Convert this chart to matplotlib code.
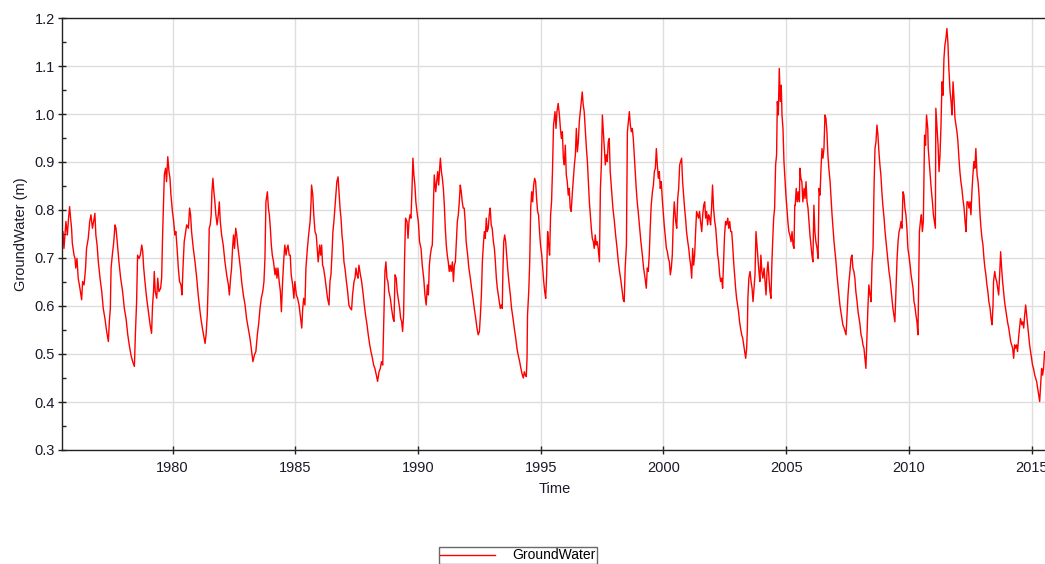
import numpy as np
import matplotlib
matplotlib.use("Agg")
from matplotlib import pyplot as plt
from matplotlib.ticker import MultipleLocator

plt.rcParams['font.family'] = ['Liberation Sans', 'DejaVu Sans']

# groundwater level in pieces of about five years
t_a = [1975.48, 1975.53, 1975.57, 1975.61, 1975.65, 1975.71, 1975.75, 1975.80, 1975.84, 1975.88,
       1975.91, 1975.98, 1976.02, 1976.05, 1976.10, 1976.15, 1976.22, 1976.29, 1976.33, 1976.39,
       1976.45, 1976.49, 1976.56, 1976.62, 1976.67, 1976.73, 1976.78, 1976.83, 1976.87, 1976.92,
       1976.97, 1977.04, 1977.11, 1977.17, 1977.24, 1977.31, 1977.38, 1977.42, 1977.46, 1977.49,
       1977.54, 1977.60, 1977.65, 1977.69, 1977.74, 1977.81, 1977.88, 1977.96, 1978.03, 1978.10,
       1978.17, 1978.23, 1978.30, 1978.37, 1978.44, 1978.48, 1978.53, 1978.57, 1978.63, 1978.68,
       1978.74, 1978.78, 1978.82, 1978.87, 1978.94, 1979.01, 1979.08, 1979.14, 1979.18, 1979.22,
       1979.25, 1979.29, 1979.35, 1979.39, 1979.44, 1979.51, 1979.55, 1979.59, 1979.63, 1979.66,
       1979.71, 1979.75, 1979.80, 1979.85, 1979.89, 1979.93, 1979.99, 1980.04, 1980.09, 1980.13,
       1980.18, 1980.23, 1980.28, 1980.34, 1980.38, 1980.42, 1980.47, 1980.51, 1980.57, 1980.64,
       1980.69]
gw_a = [0.727, 0.755, 0.720, 0.748, 0.776, 0.748, 0.779, 0.807, 0.783, 0.762,
        0.731, 0.706, 0.699, 0.679, 0.699, 0.658, 0.637, 0.613, 0.651, 0.644,
        0.679, 0.720, 0.741, 0.776, 0.790, 0.762, 0.776, 0.793, 0.748, 0.727,
        0.692, 0.658, 0.630, 0.595, 0.574, 0.547, 0.526, 0.568, 0.595, 0.679,
        0.706, 0.734, 0.769, 0.762, 0.734, 0.692, 0.658, 0.630, 0.595, 0.574,
        0.540, 0.519, 0.498, 0.484, 0.474, 0.540, 0.609, 0.706, 0.699, 0.706,
        0.727, 0.713, 0.679, 0.651, 0.616, 0.588, 0.561, 0.543, 0.602, 0.630,
        0.672, 0.630, 0.616, 0.658, 0.630, 0.637, 0.658, 0.748, 0.817, 0.873,
        0.887, 0.859, 0.911, 0.880, 0.866, 0.831, 0.797, 0.776, 0.748, 0.755,
        0.720, 0.679, 0.651, 0.644, 0.623, 0.679, 0.734, 0.748, 0.769, 0.762,
        0.804]

t_b = [1980.73, 1980.77, 1980.84, 1980.91, 1980.98, 1981.04, 1981.10, 1981.15, 1981.21, 1981.26,
       1981.32, 1981.36, 1981.41, 1981.45, 1981.49, 1981.53, 1981.57, 1981.60, 1981.64, 1981.68,
       1981.72, 1981.76, 1981.81, 1981.86, 1981.90, 1981.94, 1981.995, 1982.06, 1982.13, 1982.20,
       1982.27, 1982.31, 1982.36, 1982.40, 1982.44, 1982.48, 1982.52, 1982.57, 1982.61, 1982.65,
       1982.70, 1982.76, 1982.81, 1982.88, 1982.95, 1983.01, 1983.08, 1983.15, 1983.22, 1983.27,
       1983.33, 1983.39, 1983.45, 1983.50, 1983.56, 1983.61, 1983.67, 1983.72, 1983.76, 1983.80,
       1983.86, 1983.90, 1983.94, 1983.98, 1984.02, 1984.06, 1984.11, 1984.17, 1984.21, 1984.25,
       1984.29, 1984.34, 1984.39, 1984.43, 1984.48, 1984.53, 1984.57, 1984.62, 1984.66, 1984.70,
       1984.75, 1984.79, 1984.83, 1984.89, 1984.94, 1984.98, 1985.04, 1985.09, 1985.15, 1985.20,
       1985.26, 1985.30, 1985.34, 1985.39, 1985.43, 1985.49, 1985.54, 1985.60, 1985.64, 1985.66,
       1985.71, 1985.75]
gw_b = [0.790, 0.755, 0.720, 0.692, 0.658, 0.623, 0.595, 0.574, 0.554, 0.540,
        0.522, 0.540, 0.581, 0.651, 0.762, 0.769, 0.790, 0.838, 0.866, 0.838,
        0.817, 0.790, 0.769, 0.790, 0.817, 0.776, 0.748, 0.727, 0.692, 0.665,
        0.644, 0.623, 0.658, 0.679, 0.720, 0.748, 0.720, 0.762, 0.748, 0.727,
        0.706, 0.679, 0.651, 0.623, 0.602, 0.574, 0.554, 0.533, 0.505, 0.484,
        0.498, 0.505, 0.540, 0.561, 0.595, 0.616, 0.630, 0.651, 0.699, 0.817,
        0.838, 0.804, 0.790, 0.762, 0.727, 0.706, 0.692, 0.665, 0.679, 0.658,
        0.679, 0.651, 0.630, 0.588, 0.651, 0.699, 0.727, 0.706, 0.720, 0.727,
        0.706, 0.706, 0.665, 0.644, 0.616, 0.651, 0.623, 0.616, 0.602, 0.581,
        0.554, 0.595, 0.616, 0.602, 0.679, 0.720, 0.748, 0.776, 0.817, 0.852,
        0.831, 0.790]

t_c = [1985.80, 1985.85, 1985.89, 1985.93, 1985.99, 1986.03, 1986.07, 1986.11, 1986.15, 1986.21,
       1986.26, 1986.31, 1986.37, 1986.41, 1986.45, 1986.49, 1986.53, 1986.57, 1986.61, 1986.65,
       1986.69, 1986.74, 1986.78, 1986.82, 1986.86, 1986.90, 1986.94, 1986.98, 1987.02, 1987.08,
       1987.13, 1987.18, 1987.24, 1987.29, 1987.33, 1987.39, 1987.43, 1987.47, 1987.51, 1987.55,
       1987.59, 1987.65, 1987.70, 1987.75, 1987.81, 1987.86, 1987.92, 1987.97, 1988.03, 1988.08,
       1988.14, 1988.19, 1988.24, 1988.30, 1988.35, 1988.41, 1988.46, 1988.51, 1988.56, 1988.60,
       1988.65, 1988.69, 1988.73, 1988.77, 1988.81, 1988.87, 1988.92, 1988.98, 1989.02, 1989.06,
       1989.11, 1989.15, 1989.19, 1989.25, 1989.29, 1989.33, 1989.37, 1989.41, 1989.45, 1989.49,
       1989.55, 1989.59, 1989.63, 1989.67, 1989.71, 1989.75, 1989.79, 1989.83, 1989.87, 1989.91,
       1989.97, 1990.01, 1990.06, 1990.12, 1990.17, 1990.23, 1990.28, 1990.33, 1990.38, 1990.42,
       1990.46, 1990.50, 1990.54, 1990.58, 1990.62, 1990.66]
gw_c = [0.755, 0.748, 0.720, 0.692, 0.727, 0.706, 0.727, 0.685, 0.679, 0.658,
        0.637, 0.616, 0.602, 0.651, 0.665, 0.706, 0.755, 0.776, 0.804, 0.831,
        0.859, 0.869, 0.838, 0.804, 0.783, 0.748, 0.727, 0.692, 0.679, 0.651,
        0.630, 0.602, 0.595, 0.592, 0.623, 0.651, 0.658, 0.679, 0.665, 0.658,
        0.685, 0.665, 0.651, 0.630, 0.602, 0.581, 0.561, 0.540, 0.519, 0.505,
        0.491, 0.477, 0.470, 0.456, 0.443, 0.463, 0.470, 0.484, 0.477, 0.568,
        0.672, 0.692, 0.658, 0.651, 0.630, 0.616, 0.595, 0.574, 0.568, 0.665,
        0.658, 0.630, 0.616, 0.595, 0.574, 0.568, 0.547, 0.581, 0.699, 0.783,
        0.776, 0.741, 0.776, 0.790, 0.783, 0.838, 0.908, 0.873, 0.852, 0.817,
        0.790, 0.776, 0.734, 0.720, 0.685, 0.658, 0.623, 0.602, 0.644, 0.623,
        0.685, 0.706, 0.720, 0.727, 0.804, 0.873]

t_d = [1990.72, 1990.76, 1990.80, 1990.84, 1990.88, 1990.91, 1990.95, 1990.99, 1991.03, 1991.07,
       1991.11, 1991.15, 1991.19, 1991.23, 1991.27, 1991.31, 1991.35, 1991.40, 1991.44, 1991.48,
       1991.52, 1991.56, 1991.60, 1991.64, 1991.68, 1991.72, 1991.76, 1991.80, 1991.84, 1991.88,
       1991.92, 1991.96, 1992.02, 1992.07, 1992.13, 1992.18, 1992.24, 1992.29, 1992.35, 1992.40,
       1992.45, 1992.50, 1992.54, 1992.58, 1992.62, 1992.66, 1992.70, 1992.74, 1992.78, 1992.82,
       1992.86, 1992.90, 1992.94, 1992.98, 1993.02, 1993.07, 1993.11, 1993.15, 1993.19, 1993.23,
       1993.27, 1993.31, 1993.35, 1993.39, 1993.43, 1993.46, 1993.49, 1993.53, 1993.57, 1993.61,
       1993.65, 1993.70, 1993.76, 1993.81, 1993.87, 1993.92, 1993.98, 1994.03, 1994.08, 1994.14,
       1994.19, 1994.25, 1994.29, 1994.33, 1994.37, 1994.41, 1994.44, 1994.46, 1994.51, 1994.55,
       1994.59, 1994.63, 1994.67, 1994.71, 1994.75, 1994.79, 1994.83, 1994.87, 1994.91, 1994.95,
       1994.99, 1995.04, 1995.08, 1995.12, 1995.16, 1995.20, 1995.24, 1995.28, 1995.32, 1995.36,
       1995.40, 1995.44, 1995.48, 1995.52]
gw_d = [0.838, 0.859, 0.880, 0.852, 0.887, 0.908, 0.880, 0.866, 0.845, 0.810,
        0.762, 0.727, 0.706, 0.692, 0.672, 0.685, 0.672, 0.692, 0.651, 0.685,
        0.692, 0.734, 0.776, 0.790, 0.817, 0.852, 0.838, 0.817, 0.804, 0.804,
        0.776, 0.734, 0.706, 0.679, 0.658, 0.637, 0.616, 0.595, 0.574, 0.554,
        0.540, 0.547, 0.581, 0.623, 0.692, 0.727, 0.755, 0.741, 0.783, 0.755,
        0.762, 0.790, 0.804, 0.769, 0.762, 0.734, 0.720, 0.692, 0.658, 0.637,
        0.623, 0.609, 0.595, 0.602, 0.595, 0.679, 0.734, 0.748, 0.734, 0.706,
        0.679, 0.651, 0.623, 0.595, 0.574, 0.554, 0.533, 0.512, 0.498, 0.484,
        0.470, 0.456, 0.450, 0.463, 0.456, 0.453, 0.491, 0.581, 0.630, 0.692,
        0.804, 0.838, 0.817, 0.852, 0.866, 0.859, 0.824, 0.797, 0.790, 0.755,
        0.727, 0.706, 0.679, 0.651, 0.630, 0.616, 0.665, 0.755, 0.727, 0.706,
        0.790, 0.817, 0.887, 0.977]

t_e = [1995.58, 1995.62, 1995.66, 1995.71, 1995.76, 1995.80, 1995.84, 1995.88, 1995.92, 1995.96,
       1996.00, 1996.04, 1996.08, 1996.12, 1996.16, 1996.20, 1996.24, 1996.29, 1996.33, 1996.37,
       1996.41, 1996.45, 1996.49, 1996.53, 1996.57, 1996.61, 1996.65, 1996.69, 1996.73, 1996.77,
       1996.81, 1996.86, 1996.90, 1996.94, 1996.98, 1997.02, 1997.06, 1997.10, 1997.14, 1997.18,
       1997.22, 1997.26, 1997.30, 1997.34, 1997.39, 1997.43, 1997.47, 1997.51, 1997.55, 1997.59,
       1997.63, 1997.67, 1997.71, 1997.75, 1997.79, 1997.83, 1997.89, 1997.94, 1998.00, 1998.05,
       1998.11, 1998.16, 1998.21, 1998.27, 1998.32, 1998.36, 1998.40, 1998.44, 1998.49, 1998.53,
       1998.57, 1998.61, 1998.65, 1998.69, 1998.73, 1998.77, 1998.81, 1998.85, 1998.89, 1998.93,
       1998.97, 1999.03, 1999.08, 1999.14, 1999.19, 1999.25, 1999.30, 1999.34, 1999.38, 1999.42,
       1999.46, 1999.50, 1999.55, 1999.59, 1999.63, 1999.67, 1999.71, 1999.75, 1999.79, 1999.83,
       1999.87, 1999.91, 1999.95, 1999.99, 2000.03, 2000.07, 2000.12, 2000.16, 2000.20, 2000.24,
       2000.28, 2000.32, 2000.36, 2000.40, 2000.44]
gw_e = [1.005, 0.970, 1.005, 1.022, 0.998, 0.970, 0.949, 0.963, 0.908, 0.894,
        0.935, 0.873, 0.859, 0.831, 0.845, 0.804, 0.797, 0.838, 0.866, 0.894,
        0.915, 0.970, 0.921, 0.942, 0.984, 1.005, 1.026, 1.046, 1.019, 1.005,
        0.970, 0.928, 0.901, 0.859, 0.817, 0.790, 0.762, 0.741, 0.734, 0.720,
        0.748, 0.727, 0.734, 0.720, 0.692, 0.845, 0.894, 0.998, 0.963, 0.928,
        0.894, 0.915, 0.901, 0.942, 0.949, 0.880, 0.838, 0.804, 0.776, 0.748,
        0.720, 0.692, 0.672, 0.651, 0.630, 0.613, 0.609, 0.679, 0.727, 0.963,
        0.984, 1.005, 0.977, 0.963, 0.970, 0.949, 0.915, 0.880, 0.845, 0.817,
        0.797, 0.762, 0.734, 0.706, 0.679, 0.658, 0.637, 0.679, 0.672, 0.706,
        0.762, 0.810, 0.838, 0.852, 0.880, 0.887, 0.928, 0.894, 0.866, 0.880,
        0.845, 0.859, 0.824, 0.797, 0.769, 0.748, 0.720, 0.713, 0.699, 0.692,
        0.665, 0.679, 0.706, 0.776, 0.817]

t_f = [2000.50, 2000.54, 2000.58, 2000.62, 2000.66, 2000.70, 2000.74, 2000.78, 2000.82, 2000.86,
       2000.90, 2000.94, 2000.99, 2001.03, 2001.07, 2001.11, 2001.15, 2001.19, 2001.23, 2001.27,
       2001.31, 2001.35, 2001.39, 2001.43, 2001.47, 2001.51, 2001.56, 2001.60, 2001.64, 2001.68,
       2001.72, 2001.76, 2001.80, 2001.84, 2001.88, 2001.92, 2001.96, 2002.00, 2002.04, 2002.09,
       2002.13, 2002.17, 2002.21, 2002.25, 2002.29, 2002.33, 2002.37, 2002.41, 2002.45, 2002.49,
       2002.53, 2002.57, 2002.62, 2002.66, 2002.70, 2002.74, 2002.78, 2002.82, 2002.86, 2002.90,
       2002.94, 2002.98, 2003.02, 2003.06, 2003.10, 2003.14, 2003.19, 2003.23, 2003.27, 2003.31,
       2003.35, 2003.39, 2003.42, 2003.44, 2003.48, 2003.53, 2003.57, 2003.61, 2003.65, 2003.69,
       2003.73, 2003.77, 2003.81, 2003.85, 2003.89, 2003.93, 2003.97, 2004.01, 2004.05, 2004.10,
       2004.14, 2004.18, 2004.22, 2004.26, 2004.30, 2004.34, 2004.38, 2004.42, 2004.45, 2004.49,
       2004.53, 2004.57, 2004.61, 2004.64, 2004.68, 2004.72, 2004.76, 2004.80, 2004.83, 2004.87,
       2004.91, 2004.95, 2004.99, 2005.03, 2005.07, 2005.11, 2005.15, 2005.20, 2005.24, 2005.28,
       2005.32, 2005.35]
gw_f = [0.776, 0.762, 0.824, 0.845, 0.894, 0.901, 0.908, 0.859, 0.831, 0.804,
        0.783, 0.755, 0.734, 0.720, 0.699, 0.685, 0.658, 0.720, 0.685, 0.706,
        0.755, 0.797, 0.790, 0.783, 0.797, 0.776, 0.755, 0.790, 0.810, 0.817,
        0.783, 0.797, 0.769, 0.790, 0.783, 0.769, 0.804, 0.852, 0.804, 0.776,
        0.762, 0.734, 0.706, 0.692, 0.665, 0.651, 0.658, 0.637, 0.692, 0.748,
        0.776, 0.769, 0.783, 0.762, 0.776, 0.755, 0.755, 0.727, 0.692, 0.665,
        0.637, 0.616, 0.602, 0.588, 0.568, 0.554, 0.540, 0.533, 0.519, 0.505,
        0.491, 0.512, 0.554, 0.616, 0.658, 0.672, 0.651, 0.637, 0.609, 0.637,
        0.665, 0.755, 0.727, 0.699, 0.672, 0.651, 0.706, 0.672, 0.658, 0.679,
        0.651, 0.623, 0.672, 0.692, 0.658, 0.630, 0.616, 0.692, 0.734, 0.783,
        0.804, 0.894, 0.915, 1.026, 0.998, 1.095, 1.026, 1.060, 0.998, 0.970,
        0.901, 0.866, 0.831, 0.804, 0.776, 0.755, 0.748, 0.734, 0.755, 0.727,
        0.720, 0.810]

t_g = [2005.37, 2005.41, 2005.45, 2005.49, 2005.54, 2005.56, 2005.60, 2005.64, 2005.68, 2005.73,
       2005.77, 2005.81, 2005.85, 2005.89, 2005.93, 2005.97, 2006.01, 2006.05, 2006.09, 2006.13,
       2006.17, 2006.21, 2006.26, 2006.30, 2006.34, 2006.38, 2006.42, 2006.46, 2006.50, 2006.54,
       2006.58, 2006.62, 2006.66, 2006.70, 2006.74, 2006.79, 2006.83, 2006.87, 2006.91, 2006.95,
       2006.99, 2007.03, 2007.07, 2007.11, 2007.15, 2007.19, 2007.23, 2007.27, 2007.31, 2007.36,
       2007.40, 2007.44, 2007.48, 2007.52, 2007.56, 2007.60, 2007.64, 2007.68, 2007.72, 2007.76,
       2007.80, 2007.84, 2007.89, 2007.93, 2007.97, 2008.01, 2008.05, 2008.09, 2008.13, 2008.17,
       2008.21, 2008.25, 2008.29, 2008.33, 2008.37, 2008.42, 2008.46, 2008.50, 2008.54, 2008.58,
       2008.62, 2008.66, 2008.70, 2008.74, 2008.78, 2008.82, 2008.86, 2008.90, 2008.94, 2008.99,
       2009.03, 2009.07, 2009.11, 2009.15, 2009.19, 2009.23, 2009.27, 2009.31, 2009.35, 2009.39,
       2009.43, 2009.47, 2009.52, 2009.56, 2009.60, 2009.64, 2009.68, 2009.72, 2009.76, 2009.80,
       2009.84, 2009.88, 2009.92, 2009.96, 2010.00, 2010.05, 2010.09, 2010.13, 2010.17, 2010.21,
       2010.24]
gw_g = [0.810, 0.845, 0.817, 0.838, 0.817, 0.887, 0.866, 0.859, 0.817, 0.845,
        0.824, 0.859, 0.817, 0.804, 0.776, 0.748, 0.727, 0.706, 0.692, 0.810,
        0.755, 0.734, 0.720, 0.699, 0.845, 0.831, 0.887, 0.928, 0.908, 0.928,
        0.998, 0.991, 0.963, 0.915, 0.887, 0.859, 0.824, 0.790, 0.762, 0.734,
        0.713, 0.692, 0.665, 0.644, 0.623, 0.602, 0.588, 0.574, 0.561, 0.554,
        0.547, 0.540, 0.581, 0.623, 0.651, 0.672, 0.699, 0.706, 0.679, 0.672,
        0.658, 0.630, 0.609, 0.588, 0.574, 0.561, 0.540, 0.533, 0.519, 0.512,
        0.491, 0.470, 0.533, 0.595, 0.644, 0.623, 0.609, 0.692, 0.720, 0.845,
        0.928, 0.942, 0.977, 0.956, 0.921, 0.894, 0.873, 0.838, 0.810, 0.783,
        0.755, 0.734, 0.713, 0.692, 0.672, 0.658, 0.637, 0.616, 0.595, 0.581,
        0.567, 0.623, 0.699, 0.734, 0.755, 0.762, 0.776, 0.762, 0.838, 0.831,
        0.804, 0.790, 0.762, 0.720, 0.706, 0.685, 0.665, 0.651, 0.637, 0.609,
        0.602]

t_h = [2010.29, 2010.33, 2010.37, 2010.40, 2010.43, 2010.47, 2010.51, 2010.55, 2010.59, 2010.62,
       2010.64, 2010.68, 2010.72, 2010.77, 2010.79, 2010.83, 2010.87, 2010.91, 2010.96, 2011.00,
       2011.04, 2011.08, 2011.10, 2011.15, 2011.19, 2011.23, 2011.27, 2011.31, 2011.35, 2011.39,
       2011.43, 2011.47, 2011.51, 2011.55, 2011.59, 2011.63, 2011.68, 2011.72, 2011.76, 2011.80,
       2011.84, 2011.88, 2011.92, 2011.96, 2012.00, 2012.04, 2012.08, 2012.12, 2012.16, 2012.20,
       2012.25, 2012.29, 2012.33, 2012.37, 2012.41, 2012.45, 2012.49, 2012.53, 2012.57, 2012.61,
       2012.65, 2012.69, 2012.73, 2012.78, 2012.82, 2012.86, 2012.90, 2012.94, 2012.98, 2013.02,
       2013.06, 2013.10, 2013.14, 2013.18, 2013.22, 2013.26, 2013.31, 2013.35, 2013.39, 2013.43,
       2013.45, 2013.50, 2013.54, 2013.58, 2013.62, 2013.66, 2013.70, 2013.74, 2013.78, 2013.82,
       2013.86, 2013.90, 2013.94, 2013.98, 2014.02, 2014.07, 2014.11, 2014.15, 2014.19, 2014.23,
       2014.27, 2014.31, 2014.35, 2014.39, 2014.43, 2014.47, 2014.51, 2014.55, 2014.60, 2014.64,
       2014.68, 2014.72, 2014.76, 2014.80, 2014.84, 2014.88, 2014.92, 2014.96, 2015.00, 2015.04,
       2015.08, 2015.13, 2015.17, 2015.21, 2015.25, 2015.29, 2015.33, 2015.37, 2015.41, 2015.45,
       2015.49, 2015.53]
gw_h = [0.581, 0.567, 0.540, 0.651, 0.755, 0.776, 0.790, 0.755, 0.776, 0.894,
        0.956, 0.935, 0.998, 0.970, 0.928, 0.901, 0.873, 0.845, 0.817, 0.790,
        0.776, 0.762, 1.012, 0.970, 0.935, 0.880, 0.915, 0.977, 1.067, 1.039,
        1.116, 1.144, 1.157, 1.178, 1.150, 1.095, 1.046, 1.026, 0.998, 1.067,
        1.033, 0.991, 0.977, 0.963, 0.942, 0.908, 0.880, 0.859, 0.845, 0.824,
        0.804, 0.776, 0.755, 0.817, 0.817, 0.804, 0.817, 0.790, 0.838, 0.873,
        0.901, 0.887, 0.928, 0.873, 0.859, 0.831, 0.790, 0.762, 0.741, 0.727,
        0.699, 0.679, 0.665, 0.644, 0.630, 0.609, 0.595, 0.574, 0.561, 0.602,
        0.651, 0.672, 0.658, 0.651, 0.637, 0.623, 0.665, 0.713, 0.679, 0.651,
        0.630, 0.609, 0.595, 0.581, 0.567, 0.554, 0.540, 0.526, 0.519, 0.512,
        0.491, 0.519, 0.512, 0.519, 0.505, 0.533, 0.554, 0.574, 0.561, 0.567,
        0.554, 0.581, 0.602, 0.581, 0.561, 0.540, 0.519, 0.505, 0.491, 0.477,
        0.470, 0.456, 0.449, 0.442, 0.428, 0.414, 0.401, 0.435, 0.470, 0.456,
        0.470, 0.505]

years = np.concatenate([t_a, t_b, t_c, t_d, t_e, t_f, t_g, t_h])
level = np.concatenate([gw_a, gw_b, gw_c, gw_d, gw_e, gw_f, gw_g, gw_h])

W, H = 1045, 564
fig = plt.figure(figsize=(W / 100, H / 100), dpi=100)
ax = fig.add_axes([62 / W, 1 - 450 / H, (1048 - 62) / W, (450 - 18) / H])

ax.plot(years, level, color='#ff0000', lw=1.0, label='GroundWater')

ax.set_xlim(1975.49, 2015.67)
ax.set_ylim(0.3, 1.2)
ax.xaxis.set_major_locator(MultipleLocator(5))
ax.yaxis.set_major_locator(MultipleLocator(0.1))
ax.yaxis.set_minor_locator(MultipleLocator(0.05))
ax.yaxis.set_major_formatter(matplotlib.ticker.FormatStrFormatter('%.1f'))

ax.grid(True, which='major', color='#dedede', lw=1.0)
ax.set_axisbelow(True)

for s in ax.spines.values():
    s.set_color('#222222')
    s.set_linewidth(1.0)

fs = 10.5
ax.tick_params(axis='x', which='major', direction='inout', length=6, width=1,
               pad=5, labelsize=fs, labelcolor='#1a1a2a', color='#222222')
ax.tick_params(axis='y', which='major', direction='inout', length=6, width=1,
               pad=2, labelsize=fs, labelcolor='#1a1a2a', color='#222222')
ax.tick_params(axis='y', which='minor', direction='in', length=3, width=1,
               color='#222222')

ax.set_xlabel('Time', fontsize=fs, color='#1a1a2a', labelpad=5)
ax.set_ylabel('GroundWater (m)', fontsize=fs, color='#1a1a2a', labelpad=5)

# legend sits at the bottom edge, its lower part runs off the figure
leg = fig.legend(loc='upper left', bbox_to_anchor=(439 / W, 1 - 547 / H),
                 fontsize=10, frameon=True, fancybox=False, handlelength=3.9,
                 handletextpad=1.3, borderpad=0.1, borderaxespad=0)
leg.get_frame().set_edgecolor('#444444')
leg.get_frame().set_linewidth(1.0)

plt.savefig('out.png', dpi=100)
